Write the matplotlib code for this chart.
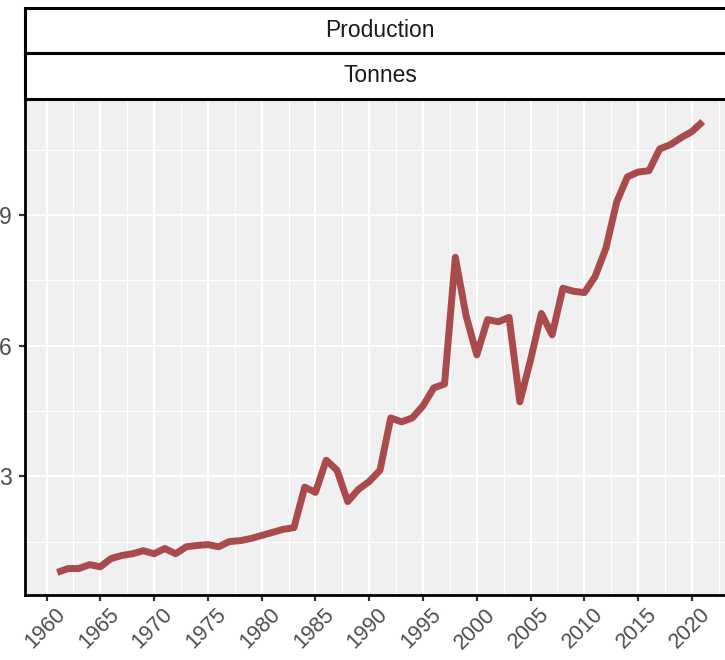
"""Production (tonnes) line chart with facet-style strips."""

import matplotlib
matplotlib.use('Agg')
import matplotlib.pyplot as plt
import matplotlib.transforms as mtransforms
from matplotlib.ticker import FixedLocator

plt.rcParams['font.family'] = ['Liberation Sans', 'DejaVu Sans']

years = list(range(1961, 2022))
production = [
    0.79, 0.88, 0.88, 0.97, 0.92, 1.11, 1.18, 1.22, 1.29, 1.22,
    1.34, 1.22, 1.38, 1.41, 1.43, 1.38, 1.50, 1.52, 1.57, 1.64,
    1.71, 1.78, 1.82, 2.75, 2.63, 3.37, 3.14, 2.42, 2.70, 2.88,
    3.14, 4.34, 4.25, 4.34, 4.62, 5.03, 5.12, 8.03, 6.69, 5.79,
    6.60, 6.55, 6.65, 4.71, 5.68, 6.74, 6.25, 7.32, 7.25, 7.22,
    7.59, 8.24, 9.30, 9.88, 9.99, 10.02, 10.52, 10.62, 10.78, 10.92,
    11.15,
]
x_ticks = list(range(1960, 2021, 5))
y_ticks = [3, 6, 9]
y_tick_labels = ['3', '6', '9']
strip_labels = ['Production', 'Tonnes']

W, H = 725, 660
fig = plt.figure(figsize=(W / 100, H / 100), dpi=100)


def fx(px):
    return px / W


def fy(py):
    return 1 - py / H


# panel extends past the right edge like the cropped original
left_px, right_px = 25, 735
top_px, bottom_px = 99, 595
ax = fig.add_axes([fx(left_px), fy(bottom_px), fx(right_px - left_px),
                   (bottom_px - top_px) / H])
ax.set_facecolor('#F0F0F0')

ax.plot(years, production, color='#A94A4C', linewidth=5.0,
        solid_joinstyle='round', solid_capstyle='butt', zorder=3)

span = max(production) - min(production)
ax.set_ylim(min(production) - 0.05 * span, max(production) + 0.05 * span)
ax.set_xlim(1958, 2024)

ax.set_xticks(x_ticks)
ax.set_xticklabels([str(x) for x in x_ticks])
ax.set_yticks(y_ticks)
ax.set_yticklabels(y_tick_labels)
ax.xaxis.set_minor_locator(FixedLocator([x + 2.5 for x in range(1955, 2025, 5)]))
ax.yaxis.set_minor_locator(FixedLocator([1.5, 4.5, 7.5, 10.5]))

ax.grid(which='major', color='white', linewidth=1.5, zorder=0)
ax.grid(which='minor', color='white', linewidth=0.8, zorder=0)
ax.set_axisbelow(True)

for side in ['top', 'right']:
    ax.spines[side].set_visible(False)
for side in ['left', 'bottom']:
    ax.spines[side].set_color('black')
    ax.spines[side].set_linewidth(2.0)

ax.tick_params(which='major', length=4.5, width=1.6, color='#333333',
               labelcolor='#4D4D4D', labelsize=16.5)
ax.tick_params(axis='x', labelsize=15.5, pad=2)
ax.tick_params(axis='y', pad=5)
ax.tick_params(which='minor', length=0)

# nudge rotated year labels right, like ggplot's hjust=1 on an angle
nudge = mtransforms.ScaledTranslation(8 / 100, 0, fig.dpi_scale_trans)
for lbl in ax.get_xticklabels():
    lbl.set_rotation(45)
    lbl.set_ha('right')
    lbl.set_va('top')
    lbl.set_rotation_mode('anchor')
    lbl.set_transform(lbl.get_transform() + nudge)

# strips
strip_bounds = [(8, 53), (53, 99)]
for label, (t, b) in zip(strip_labels, strip_bounds):
    sax = fig.add_axes([fx(left_px), fy(b), fx(right_px - left_px), (b - t) / H])
    sax.set_facecolor('white')
    sax.set_xticks([])
    sax.set_yticks([])
    for side in sax.spines.values():
        side.set_color('black')
        side.set_linewidth(2.2)
    sax.text(0.5, 0.5, label, ha='center', va='center', fontsize=16.5,
             color='#1A1A1A', transform=sax.transAxes)

fig.savefig('out.png', dpi=100)
